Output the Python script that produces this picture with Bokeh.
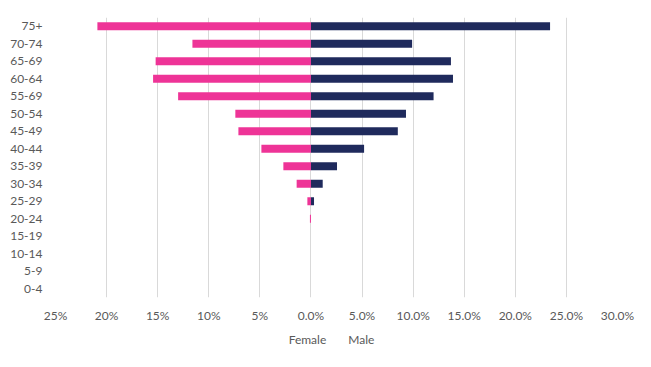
from bokeh.plotting import figure
from bokeh.layouts import column
from bokeh.models import FactorRange, FixedTicker, Legend, LegendItem, ColumnDataSource, Range1d
from bokeh.embed import file_html
from bokeh.resources import INLINE

age_groups = ["75+", "70-74", "65-69", "60-64", "55-69", "50-54", "45-49", "40-44",
              "35-39", "30-34", "25-29", "20-24", "15-19", "10-14", "5-9", "0-4"]
female = [20.9, 11.6, 15.2, 15.45, 13.0, 7.4, 7.1, 4.85, 2.7, 1.4, 0.35, 0.1, 0.0, 0.0, 0.0, 0.0]
male = [23.4, 9.9, 13.7, 13.9, 12.0, 9.3, 8.5, 5.2, 2.55, 1.15, 0.3, 0.0, 0.0, 0.0, 0.0, 0.0]
tick_values = [-25, -20, -15, -10, -5, 0, 5, 10, 15, 20, 25, 30]
tick_labels = ["25%", "20%", "15%", "10%", "5%", "0.0%", "5.0%", "10.0%", "15.0%", "20.0%", "25.0%", "30.0%"]
series_names = ["Female", "Male"]

FEMALE_COLOR = "#EE3497"
MALE_COLOR = "#1F2A5C"
TEXT_COLOR = "#595959"
FONT = "Lato"

src = ColumnDataSource(dict(
    age=age_groups,
    f_left=[-v for v in female],
    zero=[0.0] * len(age_groups),
    m_right=male,
))

p = figure(
    frame_width=562, frame_height=280,
    y_range=FactorRange(factors=list(reversed(age_groups))),
    x_range=(-25, 30),
    output_backend="svg", toolbar_location=None,
    min_border_left=55, min_border_right=34, min_border_top=17, min_border_bottom=8,
)

p.hbar(y="age", left="f_left", right="zero", height=0.45, source=src,
       fill_color=FEMALE_COLOR, line_color=None)
p.hbar(y="age", left="zero", right="m_right", height=0.45, source=src,
       fill_color=MALE_COLOR, line_color=None)

p.outline_line_color = None
p.background_fill_color = "white"
p.border_fill_color = "white"

p.xaxis.ticker = FixedTicker(ticks=tick_values)
p.xaxis.major_label_overrides = {v: l for v, l in zip(tick_values, tick_labels)}
for ax in (p.xaxis[0], p.yaxis[0]):
    ax.axis_line_color = None
    ax.major_tick_line_color = None
    ax.minor_tick_line_color = None
    ax.major_tick_out = 0
    ax.major_tick_in = 0
    ax.major_label_text_color = TEXT_COLOR
    ax.major_label_text_font = FONT
    ax.major_label_text_font_size = "12px"
p.xaxis.major_label_standoff = 10
p.yaxis.major_label_standoff = 13

p.xgrid.grid_line_color = "#D9D9D9"
p.xgrid.grid_line_width = 1
p.ygrid.grid_line_color = None

# legend strip below the chart
lg = figure(
    frame_width=651, frame_height=28,
    x_range=Range1d(0, 1), y_range=Range1d(0, 1),
    x_axis_type=None, y_axis_type=None,
    output_backend="svg", toolbar_location=None,
    min_border_left=0, min_border_right=0, min_border_top=0, min_border_bottom=0,
)
lg.outline_line_color = None
lg.xgrid.grid_line_color = None
lg.ygrid.grid_line_color = None
r_f = lg.quad(left=[], right=[], top=[], bottom=[], fill_color=FEMALE_COLOR, line_color=None)
r_m = lg.quad(left=[], right=[], top=[], bottom=[], fill_color=MALE_COLOR, line_color=None)

legend = Legend(items=[LegendItem(label=series_names[0], renderers=[r_f]),
                       LegendItem(label=series_names[1], renderers=[r_m])],
                orientation="horizontal", location="center",
                border_line_color=None, background_fill_alpha=0,
                label_text_font=FONT, label_text_font_size="12px",
                label_text_color=TEXT_COLOR, glyph_width=8, glyph_height=9,
                label_standoff=4, spacing=10, margin=0, padding=0)
lg.add_layout(legend, "center")

layout = column(p, lg, spacing=0)

open("out.html", "w").write(file_html(layout, INLINE))
